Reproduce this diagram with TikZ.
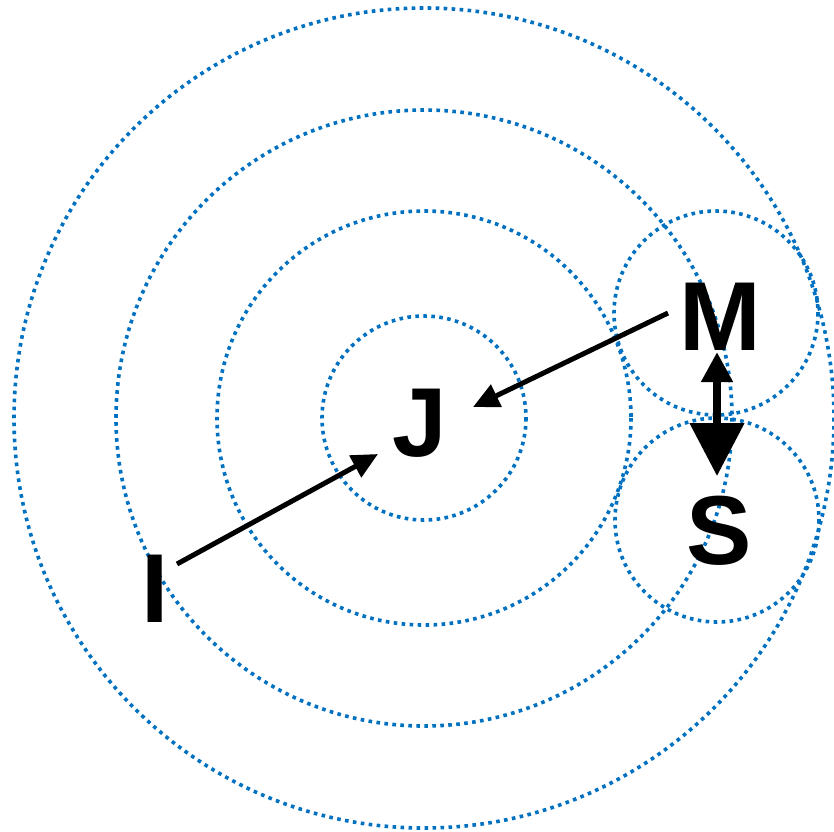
\documentclass[tikz,border=0pt]{standalone}
\usepackage{fontspec}
\setmainfont{Liberation Sans}
\usetikzlibrary{arrows.meta}
\definecolor{dotblue}{RGB}{0,112,192}
\tikzset{
  ring/.style={draw=dotblue, line width=3.6pt, dash pattern=on 3.6pt off 4.4pt},
  lbl/.style={anchor=base, inner sep=0pt, font=\fontsize{98}{98}\selectfont\bfseries},
  ptr/.style={line width=5pt, -{Triangle[length=26pt,width=24pt]}},
  dbl/.style={line width=8pt, {Triangle[length=30pt,width=30pt]}-{Triangle[length=53pt,width=53pt]}}
}
\begin{document}
\begin{tikzpicture}[x=1pt,y=-1pt]
\useasboundingbox (0,0) rectangle (834,831);
% concentric rings
\coordinate (c) at (424,418);
\draw[ring] (c) circle (410);
\draw[ring] (c) circle (308);
\draw[ring] (c) circle (207);
\draw[ring] (c) circle (102);
% small rings
\draw[ring] (716,313) circle (102);
\draw[ring] (717,520) circle (102);
% labels
\node[lbl] (M) at (720,350) {M};
\node[lbl] (J) at (420,456) {J};
\node[lbl] (S) at (719,564) {S};
\node[lbl] (I) at (155,622) {I};
% arrows
\coordinate (i0) at (177,564);
\coordinate (i1) at (378,454);
\coordinate (m0) at (668,313);
\coordinate (m1) at (473,407);
\coordinate (d0) at (717,352);
\coordinate (d1) at (717,476);
\draw[ptr] (i0) -- (i1);
\draw[ptr] (m0) -- (m1);
\draw[dbl] (d0) -- (d1);
\end{tikzpicture}
\end{document}
